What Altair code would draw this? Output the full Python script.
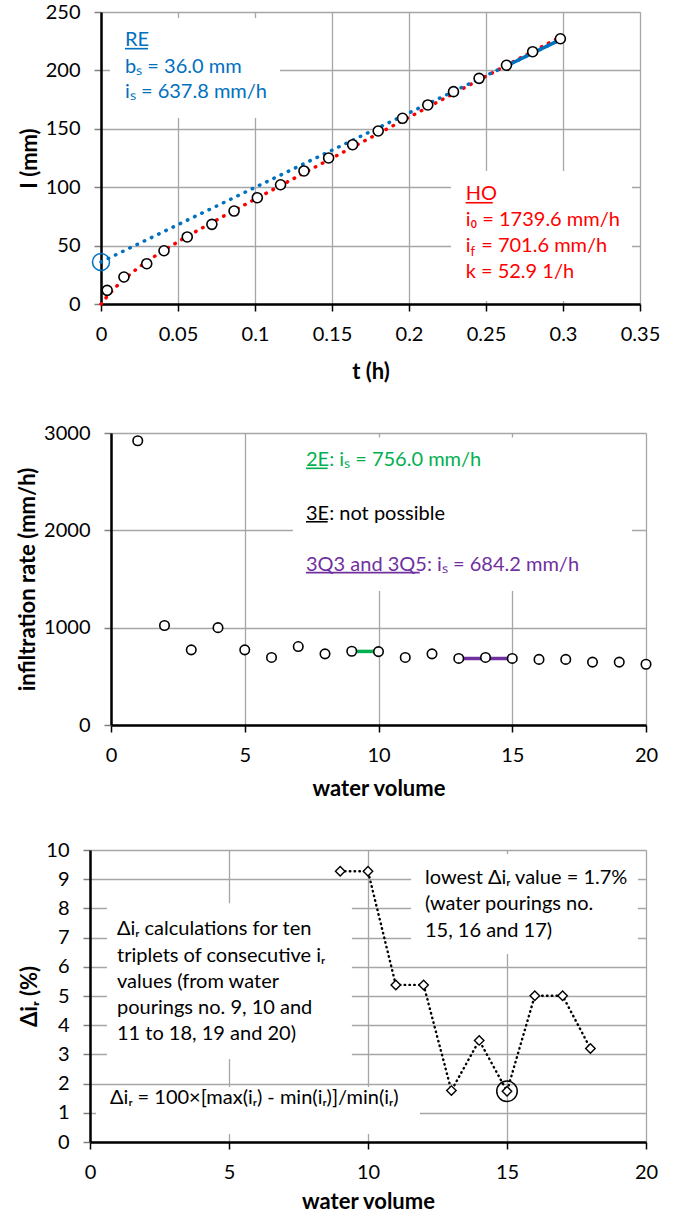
import altair as alt
import pandas as pd

FONT = "Lato"
BLACK = "#000000"
GRID = "#a6a6a6"
BLUE = "#0070C0"
RED = "#FF0000"
GREEN = "#00B050"
PURPLE = "#7030A0"

# ---------------- Panel 1: cumulative infiltration I(t) ----------------
t_obs = [0.0040, 0.0149, 0.0297, 0.0409, 0.0560, 0.0720, 0.0864, 0.1015, 0.1166, 0.1318,
         0.1478, 0.1634, 0.1800, 0.1958, 0.2122, 0.2289, 0.2455, 0.2633, 0.2803, 0.2983]
I_obs = [11.7, 23.1, 34.5, 45.6, 57.4, 68.2, 79.6, 91.0, 102.1, 113.9,
         125.0, 136.4, 148.1, 159.0, 170.4, 181.8, 193.2, 204.4, 216.0, 227.1]
# HO (Horton) curve
t_ho = [0.0, 0.005, 0.01, 0.02, 0.03, 0.04, 0.05, 0.06, 0.08, 0.10, 0.15, 0.20, 0.25, 0.297]
I_ho = [0.0, 8.1, 15.1, 26.8, 36.7, 45.3, 53.3, 60.9, 75.5, 89.7, 124.9, 159.9, 195.0, 227.8]
# RE (linear) line, dotted extension and solid fitted part
t_re = [0.0, 0.2983]
I_re = [36.0, 226.3]
t_re_fit = [0.2633, 0.2983]
I_re_fit = [203.9, 226.3]
t_bs = [0.0]
I_bs = [36.0]

# ---------------- Panel 2: infiltration rate ----------------
volume = list(range(1, 21))
rate = [2920, 1022, 772, 1000, 772, 694, 806, 731, 758, 754,
        694, 731, 684, 694, 684, 674, 674, 646, 646, 624]
v_2e = [9, 10]
r_2e = [756.0, 756.0]
v_3q = [13, 15]
r_3q = [684.2, 684.2]

# ---------------- Panel 3: delta i_r ----------------
vol_d = list(range(9, 19))
delta = [9.27, 9.27, 5.38, 5.38, 1.76, 3.48, 1.74, 5.01, 5.01, 3.20]
vol_min = [15]
delta_min = [1.74]


def axis(title, values, fmt, orient, title_pad):
    common = dict(title=title, values=values, format=fmt, grid=True, gridColor=GRID, gridWidth=1.3,
                  domainColor=BLACK, domainWidth=2.5, tickSize=7, tickWidth=1.5,
                  labelFont=FONT, labelFontSize=20, labelColor=BLACK, labelFlush=False,
                  labelOverlap=False, titlePadding=title_pad,
                  titleFont=FONT, titleFontSize=22, titleFontWeight="bold", titleColor=BLACK)
    if orient == "x":
        return alt.Axis(tickColor=BLACK, labelPadding=13, **common)
    return alt.Axis(tickColor="#808080", labelPadding=14, **common)


def make_enc(xscale, yscale, xaxis, yaxis):
    def X(f):
        return alt.X(f, type="quantitative", scale=xscale, axis=xaxis)

    def Y(f):
        return alt.Y(f, type="quantitative", scale=yscale, axis=yaxis)
    return X, Y


def boxes(X, Y, x1, x2, y1, y2):
    df = pd.DataFrame({"x": x1, "x2": x2, "y": y1, "y2": y2})
    return alt.Chart(df).mark_rect(color="white").encode(
        x=X("x"), x2="x2", y=Y("y"), y2="y2")


def texts(X, Y, xs, ys, labels, color, size=20, dx=0, dy=0):
    df = pd.DataFrame({"x": xs, "y": ys, "t": labels})
    return alt.Chart(df).mark_text(align="left", baseline="alphabetic", font=FONT,
                                   fontSize=size, color=color, dx=dx, dy=dy).encode(
        x=X("x"), y=Y("y"), text="t:N")


def underline(X, Y, x1, x2, y, color):
    df = pd.DataFrame({"x": [x1], "x2": [x2], "y": [y]})
    return alt.Chart(df).mark_rule(color=color, strokeWidth=1.6).encode(
        x=X("x"), x2="x2", y=Y("y"))


def spacer(w):
    return alt.Chart(pd.DataFrame({"s": [0]})).mark_point(opacity=0).properties(
        width=w, height=1, view=alt.ViewBackground(stroke="transparent"))


# ---------------- Panel 1 ----------------
X1, Y1 = make_enc(alt.Scale(domain=[0, 0.35], nice=False, zero=False),
                  alt.Scale(domain=[0, 250], nice=False),
                  axis("t (h)", [0, 0.05, 0.1, 0.15, 0.2, 0.25, 0.3, 0.35], ".2~f", "x", 17),
                  axis("I (mm)", [0, 50, 100, 150, 200, 250], "d", "y", 4))

dot_style = dict(strokeWidth=3.5, strokeDash=[0.5, 7.5], strokeCap="round")
p1 = alt.layer(
    boxes(X1, Y1, [0.0058, 0.2273], [0.1162, 0.3448], [244.9, 113.9], [159.2, 2.6]),
    alt.Chart(pd.DataFrame({"x": t_ho, "y": I_ho})).mark_line(color=RED, **dot_style).encode(x=X1("x"), y=Y1("y")),
    alt.Chart(pd.DataFrame({"x": t_re, "y": I_re})).mark_line(color=BLUE, **dot_style).encode(x=X1("x"), y=Y1("y")),
    alt.Chart(pd.DataFrame({"x": t_re_fit, "y": I_re_fit})).mark_line(color=BLUE, strokeWidth=3.5).encode(x=X1("x"), y=Y1("y")),
    alt.Chart(pd.DataFrame({"x": t_obs, "y": I_obs})).mark_point(
        shape="circle", filled=True, fill="white", stroke=BLACK, strokeWidth=1.6, size=100, opacity=1
    ).encode(x=X1("x"), y=Y1("y")),
    alt.Chart(pd.DataFrame({"x": t_bs, "y": I_bs})).mark_point(
        shape="circle", filled=False, color=BLUE, strokeWidth=1.5, size=290, opacity=1
    ).encode(x=X1("x"), y=Y1("y")),
    texts(X1, Y1, [0.0156, 0.0156, 0.0156], [220.9, 198.0, 176.6],
          ["RE", "bₛ = 36.0 mm", "iₛ = 637.8 mm/h"], BLUE),
    underline(X1, Y1, 0.0156, 0.0305, 218.6, BLUE),
    texts(X1, Y1, [0.2368, 0.2368, 0.2368], [89.0, 66.8, 22.5],
          ["HO", "i₀ = 1739.6 mm/h", "k = 52.9 1/h"], RED),
    texts(X1, Y1, [0.2368], [44.8], ["i"], RED),
    texts(X1, Y1, [0.2368], [44.8], ["f"], RED, size=13, dx=4.8, dy=4),
    texts(X1, Y1, [0.2368], [44.8], ["= 701.6 mm/h"], RED, dx=15.5),
    underline(X1, Y1, 0.2368, 0.2544, 86.7, RED),
).properties(width=539, height=292)

# ---------------- Panel 2 ----------------
X2, Y2 = make_enc(alt.Scale(domain=[0, 20], nice=False, zero=False),
                  alt.Scale(domain=[0, 3000], nice=False),
                  axis("water volume", [0, 5, 10, 15, 20], "d", "x", 13),
                  axis("infiltration rate (mm/h)", [0, 1000, 2000, 3000], "d", "y", 4))

p2 = alt.layer(
    boxes(X2, Y2, [6.80], [19.48], [2953], [1377]),
    alt.Chart(pd.DataFrame({"x": v_2e, "y": r_2e})).mark_line(color=GREEN, strokeWidth=3.5).encode(x=X2("x"), y=Y2("y")),
    alt.Chart(pd.DataFrame({"x": v_3q, "y": r_3q})).mark_line(color=PURPLE, strokeWidth=3.5).encode(x=X2("x"), y=Y2("y")),
    alt.Chart(pd.DataFrame({"x": volume, "y": rate})).mark_point(
        shape="circle", filled=True, fill="white", stroke=BLACK, strokeWidth=1.6, size=90, opacity=1
    ).encode(x=X2("x"), y=Y2("y")),
    texts(X2, Y2, [7.29], [2657], ["2E: iₛ = 756.0 mm/h"], GREEN),
    underline(X2, Y2, 7.29, 8.10, 2637, GREEN),
    texts(X2, Y2, [7.29], [2108], ["3E: not possible"], BLACK),
    underline(X2, Y2, 7.29, 8.10, 2088, BLACK),
    texts(X2, Y2, [7.29], [1586], ["3Q3 and 3Q5: iₛ = 684.2 mm/h"], PURPLE),
    underline(X2, Y2, 7.29, 11.54, 1566, PURPLE),
).properties(width=535, height=292)

# ---------------- Panel 3 ----------------
X3, Y3 = make_enc(alt.Scale(domain=[0, 20], nice=False, zero=False),
                  alt.Scale(domain=[0, 10], nice=False),
                  axis("water volume", [0, 5, 10, 15, 20], "d", "x", 9),
                  axis("Δiᵣ (%)", [0, 1, 2, 3, 4, 5, 6, 7, 8, 9, 10], "d", "y", 4))

p3 = alt.layer(
    boxes(X3, Y3, [0.61, 0.22, 11.55], [9.42, 11.87, 19.71], [8.18, 1.88, 9.86], [2.84, 0.27, 6.44]),
    alt.Chart(pd.DataFrame({"x": vol_d, "y": delta})).mark_line(
        color=BLACK, strokeWidth=2.4, strokeDash=[0.5, 4.3], strokeCap="round"
    ).encode(x=X3("x"), y=Y3("y")),
    alt.Chart(pd.DataFrame({"x": vol_d, "y": delta})).mark_point(
        shape="diamond", filled=True, fill="white", stroke=BLACK, strokeWidth=1.4, size=90, opacity=1
    ).encode(x=X3("x"), y=Y3("y")),
    alt.Chart(pd.DataFrame({"x": vol_min, "y": delta_min})).mark_point(
        shape="circle", filled=False, color=BLACK, strokeWidth=1.5, size=420, opacity=1
    ).encode(x=X3("x"), y=Y3("y")),
    texts(X3, Y3, [0.97] * 5, [7.09, 6.18, 5.29, 4.38, 3.49],
          ["Δiᵣ calculations for ten", "triplets of consecutive iᵣ", "values (from water",
           "pourings no. 9, 10 and", "11 to 18, 19 and 20)"], BLACK),
    texts(X3, Y3, [0.72], [1.29], ["Δiᵣ = 100×[max(iᵣ) - min(iᵣ)]/min(iᵣ)"], BLACK),
    texts(X3, Y3, [12.05] * 3, [8.83, 7.93, 7.03],
          ["lowest Δiᵣ value = 1.7%", "(water pourings no.", "15, 16 and 17)"], BLACK),
).properties(width=556, height=292)

chart = alt.vconcat(
    alt.hconcat(spacer(15), p1, spacing=0),
    alt.hconcat(spacer(14), p2, spacing=0),
    alt.hconcat(spacer(16), p3, spacing=0),
    spacing=39,
).properties(
    padding={"left": 0, "top": 1, "right": 0, "bottom": 0}
).configure_view(stroke="#404040", strokeWidth=1.5).configure(background="white")

chart.save("out.html", embed_options={"renderer": "svg", "actions": False})
